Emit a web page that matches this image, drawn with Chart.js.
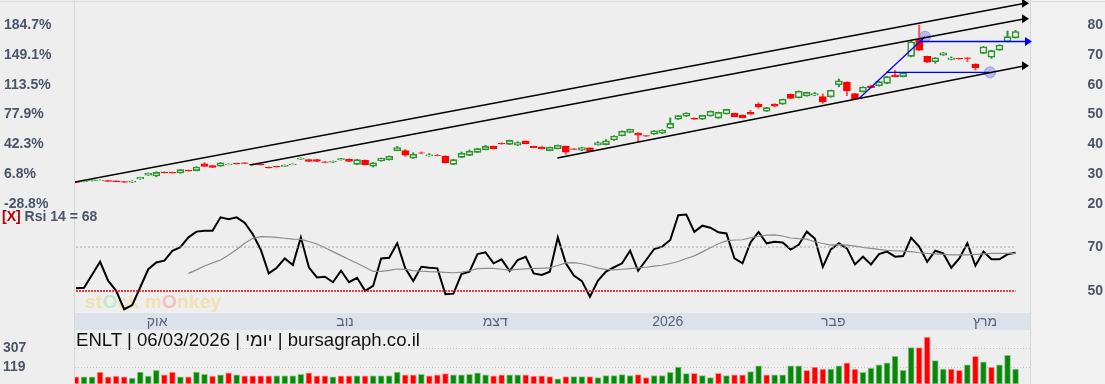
<!DOCTYPE html>
<html>
<head>
<meta charset="utf-8">
<script src="https://cdn.jsdelivr.net/npm/chart.js@4.4.1/dist/chart.umd.min.js"></script>
<style>
  body { margin: 0; background: #eeeeee; font-family: "Liberation Sans", Arial, sans-serif; }
  #wrap { position: relative; width: 1105px; height: 384px; overflow: hidden; background: #eeeeee; }
  canvas { position: absolute; left: 0; }
  .sep { position: absolute; background: #d6d6d6; }
  #rightPanel { position: absolute; left: 1030px; top: 0; width: 75px; height: 384px; background: #f1f1f1; }
  #rsiLabel { position: absolute; left: 2px; top: 208px; font: bold 14px "Liberation Sans", Arial, sans-serif; color: #4c5567; white-space: nowrap; }
  #rsiLabel b { color: #b00000; }
  #title { position: absolute; left: 76px; top: 330px; font: 18.6px/20px "Liberation Sans", Arial, sans-serif; color: #111; white-space: nowrap; z-index: 5; }
  #mark { position: absolute; left: 85px; top: 291px; font: bold 19px "Liberation Sans", Arial, sans-serif; color: rgba(245, 220, 150, 0.7); white-space: nowrap; letter-spacing: 0.3px; }
  #mark .g { color: rgba(175, 235, 195, 0.75); }
  #mark .r { color: rgba(245, 175, 175, 0.75); }
</style>
</head>
<body>
<div id="wrap">
  <div id="rightPanel"></div>
  <div class="sep" style="left:74px;top:0;width:1px;height:384px"></div>
  <div class="sep" style="left:1030px;top:0;width:1px;height:384px"></div>
  <div class="sep" style="left:0;top:1px;width:1105px;height:1px;background:#dddddd"></div>
  <div id="mark">st<span class="g">O</span>ck m<span class="r">O</span>nkey</div>
  <canvas id="price" width="1105" height="215" style="top:0"></canvas>
  <canvas id="rsi" width="1105" height="123" style="top:207px"></canvas>
  <canvas id="vol" width="1105" height="54" style="top:330px"></canvas>
  <div id="rsiLabel"><b>[X]</b> Rsi 14 = 68</div>
  <div id="title" dir="ltr">ENLT | 06/03/2026 | יומי | bursagraph.co.il</div>
</div>
<script>
// daily candles, index 0 = first session shown, 117 = 06/03/2026
const opens = [
  27.4, 27.5, 27.8, 27.85, 27.85, 27.75, 27.5, 27.3, 28.4, 29.7,
  29.4, 30.7, 30.6, 30.4, 31.3, 31.2, 33.5, 32.9, 32.7, 33.2,
  33.6, 33.8, 33.3, 33.3, 32.3, 32.6, 32.6, 33.2, 35.0, 34.85,
  34.85, 34.1, 34.0, 34.8, 35.0, 33.3, 34.65, 32.7, 34.4, 34.8,
  37.9, 37.9, 35.4, 37.15, 36.1, 36.35, 36.1, 33.3, 35.65, 36.3,
  37.3, 38.2, 39.4, 40.3, 40.0, 39.7, 41.1, 39.3, 39.0, 37.9,
  38.55, 39.4, 38.45, 38.0, 38.8, 39.8, 39.9, 41.45, 42.9, 44.0,
  43.7, 42.9, 43.4, 43.7, 45.4, 48.4, 49.4, 48.8, 48.4, 49.5,
  48.8, 50.2, 50.4, 49.8, 50.7, 53.4, 51.1, 53.5, 53.5, 56.8,
  55.6, 56.2, 56.5, 56.0, 55.9, 60.0, 60.9, 57.0, 57.6, 59.65,
  59.65, 60.45, 63.2, 62.7, 69.5, 75.2, 69.5, 67.7, 69.9, 68.5,
  68.8, 69.0, 66.9, 70.5, 69.2, 71.6, 74.4, 75.7
];
const highs = [
  27.5, 27.9, 28.2, 28.1, 27.9, 27.8, 27.6, 27.8, 29.0, 30.4,
  30.8, 30.8, 30.7, 31.6, 31.4, 32.5, 33.9, 33.0, 33.9, 33.5,
  33.7, 33.9, 33.4, 33.4, 32.4, 32.7, 33.1, 33.5, 35.5, 35.0,
  35.0, 34.2, 34.4, 35.3, 35.1, 35.0, 34.8, 33.9, 35.4, 36.1,
  39.3, 38.3, 37.2, 37.5, 36.9, 36.6, 36.2, 35.0, 37.4, 38.1,
  38.7, 39.7, 39.5, 40.5, 41.4, 40.9, 41.2, 39.4, 39.4, 39.1,
  39.8, 39.5, 38.6, 39.0, 38.9, 40.9, 41.6, 42.9, 44.5, 45.1,
  44.0, 42.9, 44.6, 44.9, 48.9, 49.7, 50.6, 48.9, 49.8, 51.2,
  50.8, 51.8, 50.5, 49.9, 51.4, 53.9, 52.4, 53.6, 55.2, 56.9,
  57.9, 57.5, 57.4, 56.9, 58.2, 61.9, 61.0, 57.1, 59.3, 59.8,
  61.1, 62.8, 64.8, 64.0, 74.5, 80.0, 69.6, 69.1, 70.8, 69.3,
  68.9, 69.1, 67.0, 72.8, 71.5, 73.4, 78.0, 78.2
];
const lows = [
  27.1, 27.4, 27.7, 27.8, 27.55, 27.45, 27.2, 27.2, 28.3, 29.6,
  29.1, 30.4, 30.3, 30.3, 31.0, 31.1, 32.5, 32.2, 32.6, 33.1,
  33.3, 33.5, 33.0, 33.0, 32.0, 32.3, 32.5, 33.1, 34.9, 34.2,
  34.2, 33.8, 33.9, 34.7, 34.2, 33.2, 33.1, 32.4, 34.3, 34.7,
  37.8, 36.0, 35.3, 36.9, 36.0, 36.1, 33.7, 33.2, 35.5, 36.2,
  37.2, 38.1, 38.4, 40.0, 39.9, 39.6, 40.1, 38.8, 38.4, 37.8,
  38.4, 36.7, 38.2, 37.9, 37.6, 39.7, 39.8, 41.3, 42.8, 43.9,
  40.9, 42.6, 43.3, 43.6, 45.3, 48.3, 49.3, 48.3, 48.3, 49.4,
  48.7, 50.1, 49.2, 48.8, 50.0, 52.1, 51.0, 52.6, 53.4, 55.3,
  55.5, 56.1, 56.3, 53.75, 55.8, 59.3, 56.3, 55.0, 57.5, 58.9,
  59.5, 60.3, 62.6, 62.6, 69.3, 71.4, 67.4, 67.2, 69.8, 68.3,
  68.5, 67.7, 64.9, 70.4, 68.8, 71.5, 74.3, 75.6
];
const closes = [
  27.2, 27.8, 28.1, 28.0, 27.6, 27.5, 27.3, 27.7, 28.9, 30.3,
  30.6, 30.5, 30.4, 31.5, 31.1, 32.4, 32.6, 32.3, 33.8, 33.4,
  33.4, 33.6, 33.1, 33.1, 32.1, 32.4, 32.95, 33.4, 35.4, 34.3,
  34.3, 33.9, 34.3, 35.2, 34.3, 34.85, 33.2, 33.8, 35.3, 36.0,
  38.9, 36.4, 36.65, 37.0, 36.5, 36.25, 33.85, 34.85, 37.0, 37.7,
  38.55, 39.3, 38.55, 40.1, 41.3, 40.55, 40.2, 38.9, 38.55, 39.0,
  39.7, 37.4, 38.3, 38.9, 37.75, 40.55, 41.2, 42.8, 44.4, 45.0,
  43.1, 42.7, 44.5, 44.8, 47.0, 49.6, 50.5, 48.4, 49.7, 51.1,
  50.7, 51.7, 49.3, 48.9, 50.1, 52.5, 52.3, 52.75, 55.1, 55.4,
  57.8, 57.4, 57.0, 54.2, 58.1, 61.3, 58.0, 55.2, 59.2, 59.0,
  61.0, 62.7, 62.7, 63.9, 74.4, 71.6, 67.5, 69.0, 70.7, 69.0,
  68.6, 68.8, 65.7, 72.7, 71.4, 73.3, 76.1, 77.8
];

const rsi = [
  51.2, 51.5, 57.4, 63.3, 54.7, 50.1, 41.7, 43.6, 51.7, 59.9,
  63.0, 63.8, 68.3, 69.9, 74.4, 77.0, 77.4, 77.4, 83.5, 82.6,
  83.5, 81.1, 75.9, 68.9, 58.0, 60.6, 64.8, 61.8, 74.4, 60.8,
  56.2, 56.5, 54.0, 59.2, 54.0, 56.0, 50.1, 52.3, 64.8, 65.1,
  71.7, 60.3, 54.5, 61.0, 60.6, 60.3, 48.5, 48.8, 57.7, 58.8,
  66.8, 67.6, 62.6, 64.4, 59.1, 64.1, 65.6, 58.0, 57.3, 58.8,
  74.4, 62.6, 57.0, 54.5, 47.4, 54.7, 58.8, 60.8, 62.6, 68.3,
  59.2, 64.1, 69.1, 70.2, 73.2, 84.5, 84.8, 76.9, 79.7, 78.8,
  76.7, 76.2, 64.8, 62.6, 72.1, 76.9, 71.7, 72.4, 72.1, 68.9,
  71.0, 77.0, 73.9, 61.0, 68.9, 71.7, 69.4, 62.1, 65.6, 62.1,
  66.8, 67.9, 65.6, 65.9, 74.2, 70.2, 63.3, 68.3, 67.1, 60.6,
  64.8, 71.7, 61.5, 67.9, 64.4, 64.4, 66.7, 67.4
];
const rsiAvg = [
  null, null, null, null, null, null, null, null, null, null,
  null, null, null, null, 58.0, 59.6, 61.4, 62.8, 64.1, 66.4,
  68.9, 71.7, 73.9, 74.7, 74.6, 74.4, 74.0, 73.6, 73.5, 72.5,
  71.4, 69.7, 67.9, 66.1, 64.3, 62.6, 60.8, 58.9, 58.9, 59.4,
  60.0, 59.8, 59.3, 59.0, 58.8, 58.7, 58.5, 58.3, 58.6, 59.2,
  60.2, 60.3, 60.3, 59.9, 59.5, 59.8, 60.1, 60.3, 60.3, 60.6,
  61.6, 62.8, 62.9, 62.4, 61.5, 60.4, 59.8, 59.6, 59.9, 60.2,
  60.5, 60.8, 61.3, 61.7, 62.5, 63.4, 64.8, 66.0, 67.8, 69.7,
  71.5, 72.8, 73.2, 73.3, 74.2, 74.9, 75.4, 75.5, 75.0, 74.1,
  73.8, 73.6, 72.4, 71.6, 70.9, 71.1, 70.9, 70.4, 69.8, 69.4,
  68.9, 68.5, 68.3, 68.1, 67.9, 67.4, 67.1, 66.9, 66.7, 66.4,
  66.4, 66.4, 66.7, 66.9, 67.1, 67.1, 67.1, 67.1
];

const volume = [
  72, 72, 72, 92, 72, 75, 72, 68, 92, 75,
  100, 80, 92, 72, 72, 92, 82, 75, 80, 88,
  80, 76, 76, 76, 76, 76, 76, 76, 82, 88,
  76, 76, 72, 76, 76, 76, 76, 76, 76, 76,
  92, 80, 80, 82, 76, 80, 85, 80, 80, 82,
  88, 80, 76, 80, 80, 80, 80, 75, 76, 73,
  65, 73, 73, 73, 73, 69, 77, 77, 81, 77,
  81, 69, 77, 77, 91, 119, 85, 86, 77, 69,
  86, 77, 80, 80, 94, 126, 80, 80, 80, 126,
  126, 100, 119, 107, 107, 126, 148, 107, 91, 113,
  133, 148, 205, 100, 321, 321, 552, 165, 107, 107,
  100, 133, 205, 156, 119, 133, 217, 107
];
const volUp = [
  0, 1, 1, 0, 0, 0, 0, 1, 1, 1,
  1, 0, 0, 1, 0, 1, 1, 0, 1, 0,
  1, 0, 0, 0, 0, 1, 1, 1, 1, 0,
  0, 0, 1, 0, 0, 1, 0, 1, 1, 1,
  1, 0, 0, 1, 0, 0, 0, 1, 1, 1,
  1, 1, 0, 0, 1, 1, 0, 0, 0, 0,
  1, 0, 1, 1, 0, 1, 1, 1, 1, 1,
  0, 0, 1, 1, 1, 1, 1, 0, 1, 1,
  0, 1, 0, 0, 1, 1, 0, 1, 1, 1,
  1, 0, 0, 0, 1, 1, 0, 0, 1, 1,
  1, 1, 1, 1, 1, 0, 0, 1, 1, 0,
  0, 1, 0, 1, 0, 1, 1, 1
];

const priceTicks = [20, 30, 40, 50, 60, 70, 80];
const pctLabels = ['-28.8%', '6.8%', '42.3%', '77.9%', '113.5%', '149.1%', '184.7%'];
const rsiTicks = [50, 70];
const volTicks = [119, 307];
const monthPos = [10.1, 33.5, 52.2, 73.7, 94.3, 113.2];
const monthNames = ['אוק', 'נוב', 'דצמ', '2026', 'פבר', 'מרץ'];

// drawn lines: [[index, price], [index, price]]
const trendLines = [
  [[-0.34, 27.27], [118.18, 87.27]],
  [[21.67, 33.07], [118.18, 82.11]],
  [[59.94, 35.41], [118.18, 66.36]]
];
const blueLines = [
  [[97.51, 55.36], [105.73, 76.08]],
  [[105.1, 74.47], [118.55, 74.47]],
  [[100.87, 64.14], [113.82, 64.14]]
];
const blueDots = [[105.73, 76.08], [113.82, 64.14]];

const X_MIN = -0.125, X_MAX = 118.8;
const GREEN = '#2f962f', RED = '#ff0000';
const AXIS_COLOR = '#4c5567';
const tickFont = { family: 'Liberation Sans', size: 14, weight: 'bold' };

Chart.defaults.font.family = 'Liberation Sans';
Chart.defaults.animation = false;
Chart.defaults.plugins.legend.display = false;
Chart.defaults.plugins.tooltip.enabled = false;

const idx = closes.map((c, i) => i);
const isDown = idx.map(i => closes[i] < opens[i]);

function xScale(extra) {
  return Object.assign({
    type: 'linear', min: X_MIN, max: X_MAX, bounds: 'data', offset: false,
    display: false, grid: { display: false, drawTicks: false }
  }, extra || {});
}
// fixed axis width, and no extra room kept for the end labels
const fitY = w => s => { s.width = w; s.paddingTop = 0; s.paddingBottom = 0; };
const fitX = h => s => { s.height = h; s.paddingLeft = 0; s.paddingRight = 0; };
const fixedTicks = list => s => { s.ticks = list.map(v => ({ value: v })); };
const layoutPad = (left, right) => ({ autoPadding: false, padding: { left, right, top: 0, bottom: 0 } });

// arrows on the drawn lines
const arrowPlugin = {
  id: 'arrows',
  afterDatasetsDraw(chart) {
    const { ctx, scales: { x, y } } = chart;
    const heads = trendLines.map(l => [l[1], '#000'])
      .concat([[blueLines[1][1], '#0000ff']]);
    ctx.save();
    heads.forEach(([pt, col]) => {
      const px = x.getPixelForValue(pt[0]);
      const py = y.getPixelForValue(pt[1]);
      ctx.fillStyle = col;
      ctx.beginPath();
      ctx.moveTo(px - 3, py - 4.5);
      ctx.lineTo(px + 4, py);
      ctx.lineTo(px - 3, py + 4.5);
      ctx.closePath();
      ctx.fill();
    });
    ctx.restore();
  }
};

const lineSet = (pts, color, w) => ({
  type: 'line',
  data: pts.map(p => ({ x: p[0], y: p[1] })),
  borderColor: color, borderWidth: w, pointRadius: 0, fill: false, order: 0
});

new Chart(document.getElementById('price'), {
  type: 'bar',
  data: {
    datasets: [
      {
        data: idx.map(i => ({ x: i, y: [opens[i], closes[i]] })),
        backgroundColor: idx.map(i => isDown[i] ? RED : '#efefef'),
        borderColor: idx.map(i => isDown[i] ? RED : GREEN),
        borderWidth: 1.6, borderSkipped: false,
        barThickness: 7, grouped: false, order: 1
      },
      {
        data: idx.map(i => ({ x: i, y: [lows[i], highs[i]] })),
        backgroundColor: idx.map(i => isDown[i] ? '#ff5050' : GREEN),
        borderWidth: 0, barThickness: 1.4, grouped: false, order: 2
      },
      ...trendLines.map(l => lineSet(l, '#000000', 1.5)),
      ...blueLines.map(l => lineSet(l, '#0000ff', 1.3)),
      {
        type: 'scatter',
        data: blueDots.map(p => ({ x: p[0], y: p[1] })),
        pointRadius: 5.5, pointBackgroundColor: 'rgba(120,120,235,0.45)',
        pointBorderColor: 'rgba(120,120,235,0.6)', pointBorderWidth: 1, order: 0
      }
    ]
  },
  options: {
    responsive: false,
    layout: layoutPad(4, 2),
    scales: {
      x: xScale(),
      yl: {
        position: 'left', min: 16.31, max: 88.38, bounds: 'data',
        grid: { display: false, drawTicks: false }, border: { display: false },
        afterFit: fitY(71), afterBuildTicks: fixedTicks(priceTicks),
        ticks: {
          crossAlign: 'far', padding: 0, color: AXIS_COLOR, font: tickFont,
          callback: v => pctLabels[priceTicks.indexOf(v)]
        }
      },
      y: {
        position: 'right', min: 16.31, max: 88.38, bounds: 'data',
        grid: { display: false, drawTicks: false }, border: { display: false },
        afterFit: fitY(73), afterBuildTicks: fixedTicks(priceTicks),
        ticks: { crossAlign: 'far', padding: 0, color: AXIS_COLOR, font: tickFont }
      }
    }
  },
  plugins: [arrowPlugin]
});

const bandPlugin = {
  id: 'band',
  beforeDraw(chart) {
    const x = chart.scales.x, ctx = chart.ctx;
    ctx.save();
    ctx.fillStyle = '#dde2ea';
    ctx.fillRect(x.left, x.top, x.width, x.bottom - x.top);
    ctx.restore();
  }
};

new Chart(document.getElementById('rsi'), {
  type: 'line',
  data: {
    datasets: [
      {
        data: [{ x: 0, y: 70 }, { x: 117, y: 70 }],
        borderColor: '#a8a8a8', borderWidth: 1, borderDash: [2, 2], pointRadius: 0
      },
      {
        data: [{ x: 0, y: 50 }, { x: 117, y: 50 }],
        borderColor: '#ff0000', borderWidth: 1.6, borderDash: [2, 1], pointRadius: 0
      },
      {
        data: idx.map(i => ({ x: i, y: rsiAvg[i] })),
        borderColor: '#8c8c8c', borderWidth: 1.2, pointRadius: 0, spanGaps: false
      },
      {
        data: idx.map(i => ({ x: i, y: rsi[i] })),
        borderColor: '#000000', borderWidth: 2, pointRadius: 0
      }
    ]
  },
  options: {
    responsive: false,
    layout: layoutPad(75, 2),
    scales: {
      x: xScale({
        display: true, position: 'bottom',
        border: { display: false },
        afterFit: fitX(17),
        afterBuildTicks: fixedTicks(monthPos),
        ticks: {
          autoSkip: false, maxRotation: 0, padding: 1, color: '#56627a',
          font: { family: 'Liberation Sans', size: 14 },
          callback: v => monthNames[monthPos.indexOf(v)]
        }
      }),
      y: {
        position: 'right', min: 40, max: 88.2, bounds: 'data',
        grid: { display: false, drawTicks: false }, border: { display: false },
        afterFit: fitY(73), afterBuildTicks: fixedTicks(rsiTicks),
        ticks: { crossAlign: 'far', padding: 0, color: AXIS_COLOR, font: tickFont }
      }
    }
  },
  plugins: [bandPlugin]
});

new Chart(document.getElementById('vol'), {
  type: 'bar',
  data: {
    datasets: [{
      data: idx.map(i => ({ x: i, y: volume[i] })),
      backgroundColor: idx.map(i => volUp[i] ? '#0a860a' : '#ff0000'),
      borderColor: idx.map(i => volUp[i] ? '#86c886' : '#ff9a9a'),
      borderWidth: 1, borderSkipped: false, barThickness: 6, grouped: false
    }]
  },
  options: {
    responsive: false,
    layout: layoutPad(3, 75),
    scales: {
      x: xScale(),
      y: {
        type: 'logarithmic', position: 'left', min: 50, max: 789, bounds: 'data',
        border: { display: false, dash: [1, 2] },
        grid: { color: '#c4c4c4', lineWidth: 1, drawTicks: false },
        afterFit: fitY(72), afterBuildTicks: fixedTicks(volTicks),
        ticks: { crossAlign: 'far', padding: 0, color: AXIS_COLOR, font: tickFont, callback: v => String(v) }
      }
    }
  }
});
</script>
</body>
</html>
